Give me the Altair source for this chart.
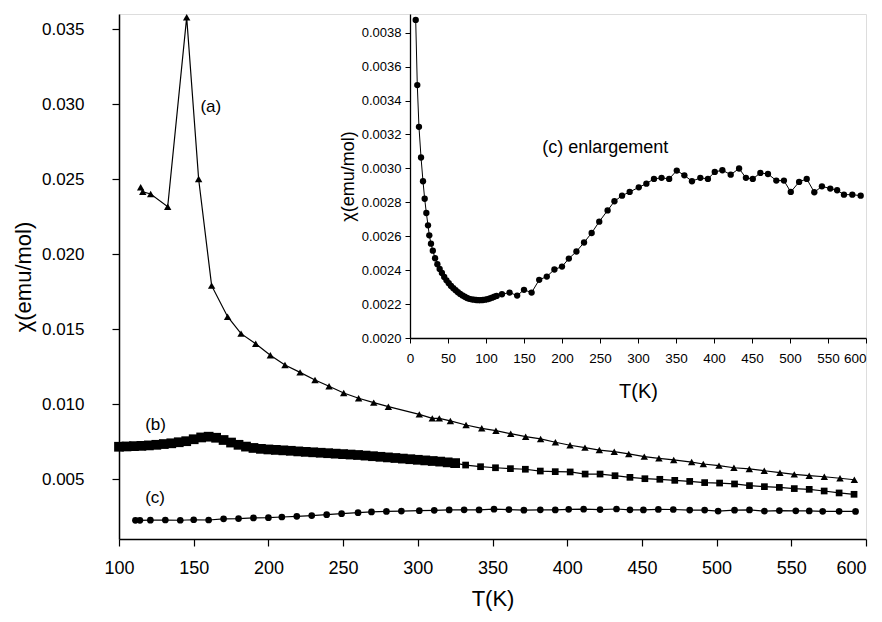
import altair as alt
import pandas as pd

# ---- series (a): triangles ----
a_T = [114.5, 115.9, 121.2, 132.6, 145.3, 153.3, 162.0, 172.7, 181.7, 191.5, 201.3, 211.1,
       221.2, 231.2, 240.6, 250.4, 260.4, 270.5, 280.3, 301.0, 309.7, 314.4, 321.8, 332.3,
       342.8, 352.3, 362.2, 372.2, 382.2, 392.1, 401.9, 411.9, 421.5, 431.5, 441.2, 451.6,
       461.4, 471.3, 483.3, 491.1, 501.6, 511.6, 521.9, 531.9, 542.4, 552.0, 562.0, 572.1,
       582.6, 592.2]
a_chi = [0.02445, 0.02415, 0.02400, 0.02315, 0.03578, 0.02500, 0.01789, 0.01582, 0.01469,
         0.01402, 0.01325, 0.01260, 0.01211, 0.01160, 0.01118, 0.01073, 0.01038, 0.01009,
         0.00982, 0.00931, 0.00904, 0.00904, 0.00887, 0.00860, 0.00838, 0.00822, 0.00802,
         0.00782, 0.00767, 0.00745, 0.00725, 0.00709, 0.00693, 0.00682, 0.00667, 0.00649,
         0.00638, 0.00627, 0.00613, 0.00600, 0.00589, 0.00575, 0.00567, 0.00555, 0.00542,
         0.00531, 0.00522, 0.00515, 0.00505, 0.00495]

# ---- series (b): dense squares then sparse squares ----
b_dense_T = [100, 105, 110, 115, 120, 125, 130, 135, 140, 145, 150, 155, 160, 165, 170, 175,
             180, 185, 190, 195, 200, 205, 210, 215, 220, 225, 230, 235, 240, 245, 250, 255,
             260, 265, 270, 275, 280, 285, 290, 295, 300, 305, 310, 315, 320, 325]
b_dense_chi = [0.00715, 0.00717, 0.00719, 0.00721, 0.00724, 0.00728, 0.00733, 0.00738, 0.00745,
               0.00752, 0.00765, 0.00777, 0.00782, 0.00775, 0.00760, 0.00743, 0.00728, 0.00716,
               0.00707, 0.00701, 0.00697, 0.00694, 0.00691, 0.00688, 0.00684, 0.00681, 0.00678,
               0.00675, 0.00672, 0.00669, 0.00666, 0.00663, 0.00660, 0.00656, 0.00652, 0.00648,
               0.00644, 0.00640, 0.00636, 0.00632, 0.00628, 0.00624, 0.00620, 0.00616, 0.00611,
               0.00606]
b_T = [332, 342, 352, 362, 372, 382, 392, 402, 412, 422, 432, 442, 452, 462, 472, 482, 492,
       502, 512, 522, 532, 542, 552, 562, 572, 582, 592]
b_chi = [0.00593, 0.00582, 0.00575, 0.00569, 0.00565, 0.00553, 0.00549, 0.00547, 0.00533,
         0.00533, 0.00522, 0.00511, 0.00502, 0.00498, 0.00491, 0.00484, 0.00476, 0.00473,
         0.00467, 0.00456, 0.00449, 0.00444, 0.00436, 0.00431, 0.00420, 0.00407, 0.00398]

# ---- series (c): circles (also shown enlarged in the inset) ----
c_T = [7.5, 9.6, 11.8, 14.5, 17.1, 19.3, 21.5, 23.7, 25.4, 27.6,
       30, 33, 36, 39, 42, 45, 48, 51, 54, 57, 60, 63, 66, 69, 72, 75, 78, 81, 84, 87, 90,
       93, 96, 99, 102, 105, 108, 111, 114,
       121, 131, 141, 150, 160, 170, 180, 190, 200, 209, 219, 229, 239, 249, 260, 269, 279,
       289, 301, 311, 321, 331, 341, 351, 361, 371, 382, 392, 401, 411, 422, 433, 442, 451,
       461, 471, 482, 492, 501, 512, 522, 532, 542, 553, 562, 571, 582, 593]
c_chi = [0.003875, 0.003491, 0.003245, 0.003064, 0.002924, 0.002821, 0.002737, 0.002664,
         0.002605, 0.002556,
         0.002515, 0.002470, 0.002435, 0.002407, 0.002383, 0.002360, 0.002340, 0.002323,
         0.002307, 0.002294, 0.002282, 0.002270, 0.002260, 0.002251, 0.002243, 0.002236,
         0.002231, 0.002228, 0.002226, 0.002224, 0.002223, 0.002223, 0.002224, 0.002226,
         0.002229, 0.002233, 0.002238, 0.002243, 0.002248,
         0.002258, 0.002268, 0.002250, 0.002284, 0.002268, 0.002343, 0.002362, 0.002404,
         0.002421, 0.002468, 0.002510, 0.002563, 0.002619, 0.002686, 0.002752, 0.002806,
         0.002839, 0.002861, 0.002888, 0.002910, 0.002938, 0.002944, 0.002938, 0.002987,
         0.002959, 0.002924, 0.002944, 0.002938, 0.002979, 0.002989, 0.002963, 0.002999,
         0.002944, 0.002938, 0.002973, 0.002967, 0.002928, 0.002928, 0.002861, 0.002920,
         0.002938, 0.002859, 0.002894, 0.002881, 0.002871, 0.002845, 0.002845, 0.002839]

# ---- annotation labels ----
lab_text = ["(a)", "(b)", "(c)"]
lab_T = [154.5, 117.5, 117.5]
lab_chi = [0.0298, 0.0086, 0.00373]

inset_lab_text = ["(c) enlargement"]
inset_lab_T = [174]
inset_lab_chi = [0.00312]

main_x_ticks = [100, 150, 200, 250, 300, 350, 400, 450, 500, 550, 600]
main_y_ticks = [0.005, 0.010, 0.015, 0.020, 0.025, 0.030, 0.035]
inset_x_ticks = [0, 50, 100, 150, 200, 250, 300, 350, 400, 450, 500, 550, 600]
inset_y_ticks = [0.0020, 0.0022, 0.0024, 0.0026, 0.0028, 0.0030, 0.0032, 0.0034, 0.0036, 0.0038]

FONT = "Liberation Sans"
W, H = 747, 525
last_align = alt.expr("datum.value == 600 ? 'right' : 'center'")

df_a = pd.DataFrame({"T": a_T, "chi": a_chi})
df_bd = pd.DataFrame({"T": b_dense_T, "chi": b_dense_chi})
df_bs = pd.DataFrame({"T": b_T, "chi": b_chi})
df_b = pd.concat([df_bd, df_bs], ignore_index=True)
df_c = pd.DataFrame({"T": c_T, "chi": c_chi})
df_c_main = df_c[df_c["T"] >= 110].reset_index(drop=True)
df_lab = pd.DataFrame({"T": lab_T, "chi": lab_chi, "txt": lab_text})
df_ilab = pd.DataFrame({"T": inset_lab_T, "chi": inset_lab_chi, "txt": inset_lab_text})

x_main = alt.X("T:Q",
               scale=alt.Scale(domain=[100, 600], nice=False, zero=False),
               axis=alt.Axis(values=main_x_ticks, format="d", title="T(K)",
                             labelFontSize=18, titleFontSize=22, tickSize=7,
                             labelPadding=13, titlePadding=11, grid=False, labelFlush=False,
                             labelAlign=last_align,
                             domainColor="black", tickColor="black", labelColor="black",
                             titleColor="black", domainWidth=1.5, tickWidth=1.2,
                             labelFont=FONT, titleFont=FONT, titleFontWeight="normal"))
y_main = alt.Y("chi:Q",
               scale=alt.Scale(domain=[0.001, 0.036], nice=False, zero=False),
               axis=alt.Axis(values=main_y_ticks, format=".3f", title="χ(emu/mol)",
                             labelFontSize=17, titleFontSize=22, tickSize=7,
                             labelPadding=28, titlePadding=6, grid=False, labelFlush=False,
                             domainColor="black", tickColor="black", labelColor="black",
                             titleColor="black", domainWidth=1.5, tickWidth=1.2,
                             labelFont=FONT, titleFont=FONT, titleFontWeight="normal"))

a_line = alt.Chart(df_a).mark_line(color="black", strokeWidth=1.2).encode(x=x_main, y=y_main)
a_pts = alt.Chart(df_a).mark_point(shape="triangle-up", filled=True, color="black", size=55,
                                   opacity=1).encode(x=x_main, y=y_main)
b_line = alt.Chart(df_b).mark_line(color="black", strokeWidth=1.2).encode(x=x_main, y=y_main)
b_dense = alt.Chart(df_bd).mark_point(shape="square", filled=True, color="black", size=95,
                                      opacity=1).encode(x=x_main, y=y_main)
b_pts = alt.Chart(df_bs).mark_point(shape="square", filled=True, color="black", size=45,
                                    opacity=1).encode(x=x_main, y=y_main)
c_line = alt.Chart(df_c_main).mark_line(color="black", strokeWidth=1.2).encode(x=x_main, y=y_main)
c_pts = alt.Chart(df_c_main).mark_point(shape="circle", filled=True, color="black", size=45,
                                        opacity=1).encode(x=x_main, y=y_main)
labels = alt.Chart(df_lab).mark_text(align="left", baseline="middle", fontSize=17,
                                     font=FONT, color="black").encode(
    x=x_main, y=y_main, text="txt:N")

main = alt.layer(a_line, a_pts, b_line, b_dense, b_pts, c_line, c_pts, labels)

x_in = alt.X("T:Q",
             scale=alt.Scale(domain=[0, 600], range=[291, 747], nice=False, zero=False),
             axis=alt.Axis(values=inset_x_ticks, format="d", title="T(K)", orient="bottom",
                           offset=-201, labelFontSize=13.5, titleFontSize=20, tickSize=5,
                           labelPadding=8, titlePadding=17, grid=False, labelFlush=False,
                           labelAlign=last_align,
                           domainColor="black", tickColor="black", labelColor="black",
                           titleColor="black", domainWidth=1.3, tickWidth=1,
                           labelFont=FONT, titleFont=FONT, titleFontWeight="normal"))
y_in = alt.Y("chi:Q",
             scale=alt.Scale(domain=[0.0020, 0.00391], range=[324, 0], nice=False, zero=False),
             axis=alt.Axis(values=inset_y_ticks, format=".4f", title="χ(emu/mol)", orient="left",
                           offset=-291, labelFontSize=13, titleFontSize=18, tickSize=5,
                           labelPadding=4, titlePadding=4, grid=False, labelFlush=False,
                           domainColor="black", tickColor="black", labelColor="black",
                           titleColor="black", domainWidth=1.3, tickWidth=1,
                           labelFont=FONT, titleFont=FONT, titleFontWeight="normal"))

ic_line = alt.Chart(df_c).mark_line(color="black", strokeWidth=1).encode(x=x_in, y=y_in)
ic_pts = alt.Chart(df_c).mark_point(shape="circle", filled=True, color="black", size=40,
                                    opacity=1).encode(x=x_in, y=y_in)
ic_lab = alt.Chart(df_ilab).mark_text(align="left", baseline="middle", fontSize=18,
                                      font=FONT, color="black").encode(
    x=x_in, y=y_in, text="txt:N")

inset = alt.layer(ic_line, ic_pts, ic_lab)

chart = alt.layer(main, inset).resolve_scale(x="independent", y="independent").properties(
    width=W, height=H,
    autosize=alt.AutoSizeParams(type="none"),
    padding={"left": 111, "top": 6, "right": 8, "bottom": 75},
).configure_view(stroke="black", strokeWidth=1.5).configure(background="white")

chart.save("out.html", embed_options={"renderer": "svg", "actions": False})
